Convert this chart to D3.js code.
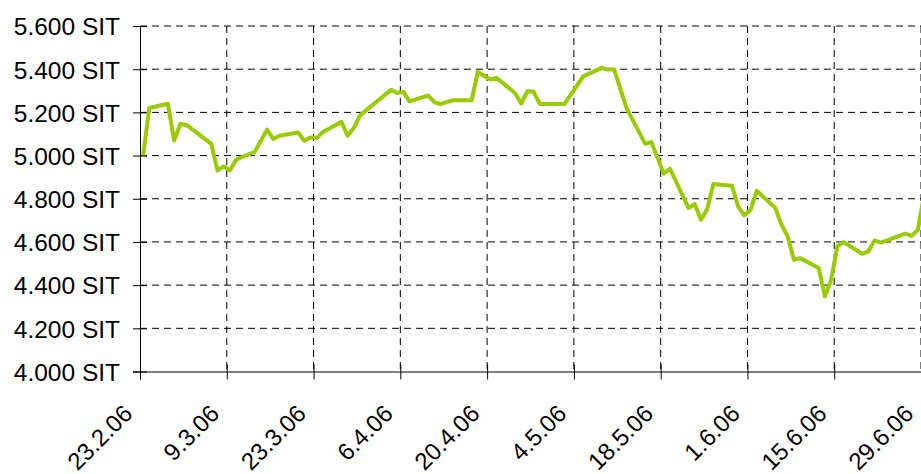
<!DOCTYPE html>
<html>
<head>
  <meta charset="utf-8">
  <script src="https://cdn.jsdelivr.net/npm/d3@7"></script>
<style type="text/css">
  body { margin: 0; background: #fff; }
  text { font-family: "Liberation Sans", Arial, sans-serif; }
</style>
</head>
<body>
<script>
  var w = 921;
  var h = 474;

  // trading days and closing prices (SIT)
  var dates = ["23.2.06","24.2.06","27.2.06","28.2.06","1.3.06","2.3.06","6.3.06","7.3.06","8.3.06","9.3.06",
               "10.3.06","13.3.06","15.3.06","16.3.06","17.3.06","20.3.06","21.3.06","22.3.06","23.3.06","24.3.06",
               "27.3.06","28.3.06","29.3.06","30.3.06","4.4.06","5.4.06","6.4.06","7.4.06","10.4.06","11.4.06",
               "12.4.06","14.4.06","17.4.06","18.4.06","20.4.06","21.4.06","24.4.06","25.4.06","26.4.06","27.4.06",
               "28.4.06","2.5.06","5.5.06","8.5.06","9.5.06","10.5.06","12.5.06","15.5.06","16.5.06","18.5.06",
               "19.5.06","22.5.06","23.5.06","24.5.06","25.5.06","26.5.06","29.5.06","30.5.06","31.5.06","1.6.06",
               "2.6.06","5.6.06","6.6.06","7.6.06","8.6.06","9.6.06","12.6.06","13.6.06","14.6.06","15.6.06",
               "16.6.06","19.6.06","20.6.06","21.6.06","22.6.06","26.6.06","27.6.06","28.6.06","29.6.06"];
  var prices = [5000,5220,5240,5070,5146,5142,5054,4931,4950,4931,
                4981,5017,5120,5077,5092,5107,5069,5084,5081,5109,
                5156,5092,5128,5186,5305,5290,5295,5251,5278,5247,
                5239,5256,5256,5387,5352,5360,5290,5241,5298,5295,
                5239,5239,5367,5406,5398,5398,5220,5054,5063,4916,
                4939,4757,4775,4703,4752,4868,4860,4764,4723,4749,
                4837,4757,4679,4625,4517,4525,4479,4347,4424,4579,
                4599,4545,4556,4607,4597,4638,4628,4656,4820];

  var xLabels = ["23.2.06","9.3.06","23.3.06","6.4.06","20.4.06","4.5.06","18.5.06","1.6.06","15.6.06","29.6.06"];
  var yTicks = [4000,4200,4400,4600,4800,5000,5200,5400,5600];

  var parse = d3.utcParse("%d.%m.%y");
  var halfDay = 12 * 3600 * 1000;

  var data = dates.map(function (d, i) {
    return { date: parse(d), value: prices[i] };
  });

  var svg = d3.select("body").append("svg")
              .attr("width", w)
              .attr("height", h);

  var x = d3.scaleUtc()
            .domain([parse(xLabels[0]), parse(xLabels[xLabels.length - 1])])
            .range([140, 921]);

  var y = d3.scaleLinear()
            .domain([4000, 5600])
            .range([371.5, 26]);

  var fmt = d3.format(",");
  var yFmt = function (v) { return fmt(v).replace(",", ".") + " SIT"; };

  // gridlines
  svg.append("g").selectAll("line")
     .data(yTicks.slice(1))
     .enter().append("line")
     .attr("x1", 140).attr("x2", w)
     .attr("y1", function (d) { return y(d); })
     .attr("y2", function (d) { return y(d); })
     .attr("stroke", "#000")
     .attr("stroke-dasharray", "7,5");

  svg.append("g").selectAll("line")
     .data(xLabels.slice(1))
     .enter().append("line")
     .attr("x1", function (d) { return x(parse(d)); })
     .attr("x2", function (d) { return x(parse(d)); })
     .attr("y1", y(5600)).attr("y2", y(4000))
     .attr("stroke", "#000")
     .attr("stroke-dasharray", "7,5");

  // y axis
  var yAxis = svg.append("g")
     .attr("transform", "translate(140,0)")
     .call(d3.axisLeft(y).tickValues(yTicks).tickFormat(yFmt).tickSize(7).tickPadding(14));
  yAxis.select(".domain").attr("stroke", "#000");
  yAxis.selectAll(".tick line").attr("x1", -7).attr("x2", 7).attr("stroke", "#000");
  yAxis.selectAll(".tick text")
       .attr("font-size", 24.5)
       .attr("fill", "#000")
       .attr("x", -20)
       .attr("dy", "0.36em");

  // x axis
  var xAxis = svg.append("g")
     .attr("transform", "translate(0," + y(4000) + ")")
     .call(d3.axisBottom(x).tickValues(xLabels.map(parse)).tickFormat("").tickSize(8));
  xAxis.select(".domain").attr("stroke", "#000");
  xAxis.selectAll(".tick line").attr("y1", -7).attr("y2", 8).attr("stroke", "#000");

  svg.append("g").selectAll("text")
     .data(xLabels)
     .enter().append("text")
     .attr("transform", function (d) {
       return "translate(" + (x(parse(d)) - 6) + ",415) rotate(-45)";
     })
     .attr("text-anchor", "end")
     .attr("font-size", 24)
     .attr("fill", "#000")
     .text(function (d) { return d; });

  // price line
  var line = d3.line()
               .x(function (d) { return x(new Date(d.date.getTime() + halfDay)); })
               .y(function (d) { return y(d.value); });

  svg.append("path")
     .datum(data)
     .attr("d", line)
     .attr("fill", "none")
     .attr("stroke", "#99cc00")
     .attr("stroke-width", 4)
     .attr("stroke-linejoin", "round");
</script>
</body>
</html>
